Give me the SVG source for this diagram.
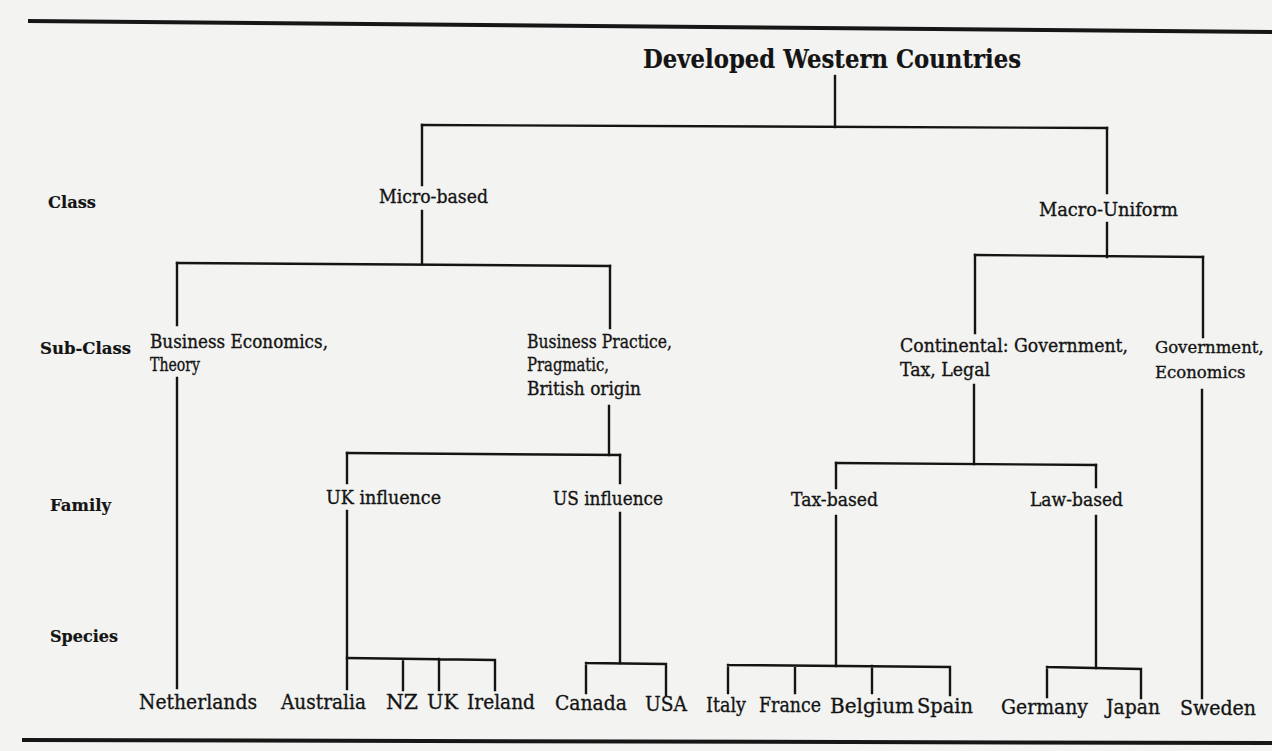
<svg xmlns="http://www.w3.org/2000/svg" width="1272" height="751" viewBox="0 0 1272 751">
<style>
text{font-family:"DejaVu Serif","Liberation Serif",serif;fill:#141414;stroke:#141414;stroke-width:0.35px;font-size:18.5px}
.t{font-size:26px;font-weight:bold;stroke-width:0.2px}
.r{font-size:17px;font-weight:bold;stroke-width:0.2px}
.c{font-size:20px}
.g{font-size:16.5px}
.rule{stroke:#161616;stroke-width:4;fill:none}
#connectors path{stroke:#141414;stroke-width:2.4;fill:none;stroke-linecap:square}
</style>
<rect width="1272" height="751" fill="#f3f3f1"/>
<g id="rules">
<path class="rule" d="M28 21 L1272 32"/>
<path class="rule" d="M22 740 L1272 743"/>
</g>
<g id="connectors">
<path d="M835 76V127"/>
<path d="M422 125L1107 128"/>
<path d="M422 125V185M422 211V264"/>
<path d="M1107 128V193M1107 223V257"/>
<path d="M177 263L610 266"/>
<path d="M177 263V325M177 378V688"/>
<path d="M610 266V328M609 406V455"/>
<path d="M347 453L620 455"/>
<path d="M347 453V483M347 511V689"/>
<path d="M347 658L495 660M403 659V690M439 659V690M495 660V690"/>
<path d="M620 455V483M620 513V663"/>
<path d="M586 663L666 664M586 663V693M666 664V695"/>
<path d="M975 255L1203 257"/>
<path d="M975 255V333M974 385V464"/>
<path d="M1203 257V337M1202 390V698"/>
<path d="M836 463L1096 465"/>
<path d="M836 463V488M836 516V666"/>
<path d="M728 665L950 667M728 665V693M795 666V693M872 666V693M950 667V695"/>
<path d="M1096 465V487M1096 516V668"/>
<path d="M1047 667L1141 669M1047 667V697M1141 669V698"/>
</g>
<g id="levels">
<text class="r" x="48" y="208" textLength="48" lengthAdjust="spacingAndGlyphs">Class</text>
<text class="r" x="40" y="354" textLength="91" lengthAdjust="spacingAndGlyphs">Sub-Class</text>
<text class="r" x="50" y="511" textLength="61" lengthAdjust="spacingAndGlyphs">Family</text>
<text class="r" x="50" y="642" textLength="68" lengthAdjust="spacingAndGlyphs">Species</text>
</g>
<g id="root"><text class="t" x="643" y="68" textLength="378" lengthAdjust="spacingAndGlyphs">Developed Western Countries</text></g>
<g id="micro"><text x="379" y="203" textLength="109" lengthAdjust="spacingAndGlyphs">Micro-based</text></g>
<g id="macro"><text x="1039" y="216" textLength="139" lengthAdjust="spacingAndGlyphs">Macro-Uniform</text></g>
<g id="bus-econ">
<text x="150" y="348" textLength="178" lengthAdjust="spacingAndGlyphs">Business Economics,</text>
<text x="150" y="371" textLength="50" lengthAdjust="spacingAndGlyphs">Theory</text>
</g>
<g id="bus-practice">
<text x="527" y="348" textLength="145" lengthAdjust="spacingAndGlyphs">Business Practice,</text>
<text x="527" y="371" textLength="82" lengthAdjust="spacingAndGlyphs">Pragmatic,</text>
<text x="527" y="395" textLength="114" lengthAdjust="spacingAndGlyphs">British origin</text>
</g>
<g id="continental">
<text x="900" y="352" textLength="228" lengthAdjust="spacingAndGlyphs">Continental: Government,</text>
<text x="900" y="376" textLength="90" lengthAdjust="spacingAndGlyphs">Tax, Legal</text>
</g>
<g id="gov-econ">
<text class="g" x="1155" y="353">Government,</text>
<text class="g" x="1155" y="378">Economics</text>
</g>
<g id="uk-influence"><text x="326" y="504" textLength="115" lengthAdjust="spacingAndGlyphs">UK influence</text></g>
<g id="us-influence"><text x="553" y="505" textLength="110" lengthAdjust="spacingAndGlyphs">US influence</text></g>
<g id="tax-based"><text x="791" y="506" textLength="87" lengthAdjust="spacingAndGlyphs">Tax-based</text></g>
<g id="law-based"><text x="1030" y="506" textLength="93" lengthAdjust="spacingAndGlyphs">Law-based</text></g>
<g id="netherlands"><text class="c" x="139" y="709" textLength="118" lengthAdjust="spacingAndGlyphs">Netherlands</text></g>
<g id="australia"><text class="c" x="281" y="709" textLength="85" lengthAdjust="spacingAndGlyphs">Australia</text></g>
<g id="nz"><text class="c" x="386" y="709" textLength="32" lengthAdjust="spacingAndGlyphs">NZ</text></g>
<g id="uk"><text class="c" x="427" y="709" textLength="31" lengthAdjust="spacingAndGlyphs">UK</text></g>
<g id="ireland"><text class="c" x="467" y="709" textLength="68" lengthAdjust="spacingAndGlyphs">Ireland</text></g>
<g id="canada"><text class="c" x="555" y="710" textLength="72" lengthAdjust="spacingAndGlyphs">Canada</text></g>
<g id="usa"><text class="c" x="645" y="711" textLength="42" lengthAdjust="spacingAndGlyphs">USA</text></g>
<g id="italy"><text class="c" x="706" y="712" textLength="40" lengthAdjust="spacingAndGlyphs">Italy</text></g>
<g id="france"><text class="c" x="759" y="712" textLength="62" lengthAdjust="spacingAndGlyphs">France</text></g>
<g id="belgium"><text class="c" x="830" y="713" textLength="84" lengthAdjust="spacingAndGlyphs">Belgium</text></g>
<g id="spain"><text class="c" x="917" y="713" textLength="56" lengthAdjust="spacingAndGlyphs">Spain</text></g>
<g id="germany"><text class="c" x="1001" y="714" textLength="87" lengthAdjust="spacingAndGlyphs">Germany</text></g>
<g id="japan"><text class="c" x="1106" y="714" textLength="54" lengthAdjust="spacingAndGlyphs">Japan</text></g>
<g id="sweden"><text class="c" x="1180" y="715" textLength="76" lengthAdjust="spacingAndGlyphs">Sweden</text></g>
</svg>
